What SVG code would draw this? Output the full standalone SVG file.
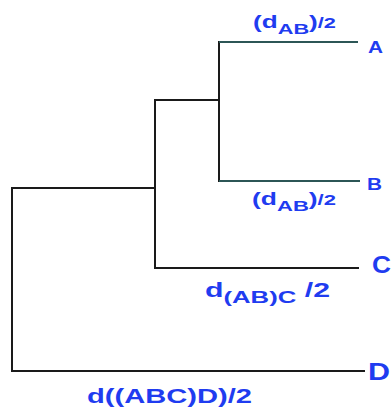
<svg xmlns="http://www.w3.org/2000/svg" width="391" height="414" viewBox="0 0 391 414">
  <style>
    .branch { fill: none; stroke: #1a1a1a; stroke-width: 2; stroke-linecap: square; }
    .tip { fill: none; stroke: #2c5656; stroke-width: 2; }
    .lbl { font-family: "Liberation Sans", Arial, sans-serif; font-weight: bold; fill: #1f3cf0; }
  </style>
  <rect width="391" height="414" fill="#ffffff"/>

  <!-- tree branches -->
  <g id="connectors">
    <path class="branch" d="M219,42 V181"/>
    <path class="tip" d="M219,42 H358"/>
    <path class="tip" d="M219,181 H360"/>
    <path class="branch" d="M155,100 H219"/>
    <path class="branch" d="M155,100 V268 H358"/>
    <path class="branch" d="M12,188 H155"/>
    <path class="branch" d="M12,188 V371 H364"/>
  </g>

  <!-- leaves -->
  <g id="leaf-A"><text class="lbl" x="368" y="53" font-size="16" textLength="15" lengthAdjust="spacingAndGlyphs">A</text></g>
  <g id="leaf-B"><text class="lbl" x="367" y="190" font-size="17" textLength="15" lengthAdjust="spacingAndGlyphs">B</text></g>
  <g id="leaf-C"><text class="lbl" x="372" y="273" font-size="24" textLength="19" lengthAdjust="spacingAndGlyphs">C</text></g>
  <g id="leaf-D"><text class="lbl" x="368" y="380" font-size="24" textLength="22" lengthAdjust="spacingAndGlyphs">D</text></g>

  <!-- branch lengths -->
  <g id="len-A">
    <text class="lbl" x="253" y="28" font-size="18" textLength="83" lengthAdjust="spacingAndGlyphs">(d<tspan font-size="15" dy="6">AB</tspan><tspan dy="-6">)</tspan><tspan font-size="15">/2</tspan></text>
  </g>
  <g id="len-B">
    <text class="lbl" x="252" y="205" font-size="18" textLength="84" lengthAdjust="spacingAndGlyphs">(d<tspan font-size="15" dy="6">AB</tspan><tspan dy="-6">)</tspan><tspan font-size="15">/2</tspan></text>
  </g>
  <g id="len-C">
    <text class="lbl" x="205" y="297" font-size="20" textLength="125" lengthAdjust="spacingAndGlyphs">d<tspan font-size="17" dy="6">(AB)C</tspan><tspan dy="-6"> /2</tspan></text>
  </g>
  <g id="len-D">
    <text class="lbl" x="87" y="403" font-size="20" textLength="165" lengthAdjust="spacingAndGlyphs">d((ABC)D)/2</text>
  </g>
</svg>
